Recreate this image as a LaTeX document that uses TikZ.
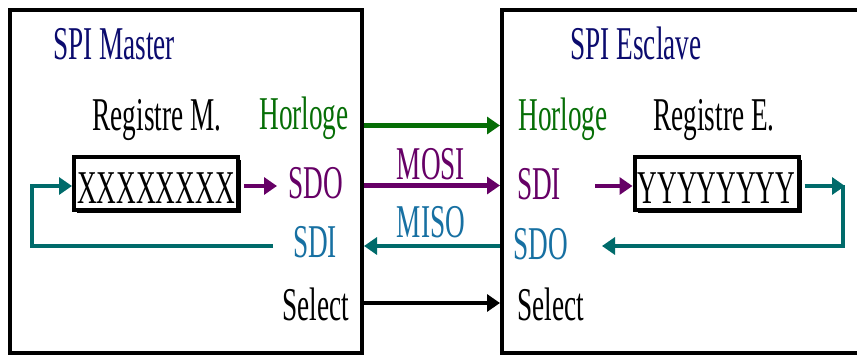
\documentclass[tikz,border=0pt]{standalone}
\usepackage{fontspec}
\setmainfont{Liberation Serif}[FakeStretch=0.58]
\usetikzlibrary{arrows.meta,shadows}
\definecolor{navyc}{HTML}{0B0B6E}
\definecolor{greenc}{HTML}{066E06}
\definecolor{purplec}{HTML}{660066}
\definecolor{tealc}{HTML}{006B6B}
\definecolor{bluec}{HTML}{1770A2}
\begin{document}
\begin{tikzpicture}[x=1pt,y=-1pt,
  lbl/.style={anchor=base, inner sep=0pt, font=\fontsize{47}{50}\selectfont},
  wire/.style={line width=4.5pt, -{Triangle[length=13pt,width=17pt]}},
  unitbox/.style={draw, line width=4pt, inner sep=0pt},
  regbox/.style={draw, line width=4pt, fill=white, inner sep=0pt,
    minimum width=164pt, minimum height=53pt, text height=39pt, text depth=0pt,
    font=\fontsize{47}{50}\selectfont,
    drop shadow={shadow xshift=3pt, shadow yshift=-3pt, fill=black, opacity=1}}]
\useasboundingbox (0,0) rectangle (857,356);
\clip (0,0) rectangle (857,356);
% units
\node[unitbox, minimum width=352pt, minimum height=343pt] (master) at (186,181.5) {};
\node[unitbox, minimum width=378pt, minimum height=343pt] (slave) at (691,181.5) {};
% titles and labels
\node[lbl, text=navyc] (tM) at (114,59) {SPI Master};
\node[lbl, text=navyc] (tS) at (636,59) {SPI Esclave};
\node[lbl] (rM) at (157,130) {Registre M.};
\node[lbl, text=greenc] (hM) at (304,129) {Horloge};
\node[lbl, text=greenc] (hS) at (563,130) {Horloge};
\node[lbl] (rS) at (714,130) {Registre E.};
\node[lbl, text=purplec] (sdoM) at (316,198) {SDO};
\node[lbl, text=purplec] (sdiS) at (539,199) {SDI};
\node[lbl, text=purplec] (mosi) at (431,179) {MOSI};
\node[lbl, text=bluec] (miso) at (431,237) {MISO};
\node[lbl, text=bluec] (sdiM) at (315,257) {SDI};
\node[lbl, text=bluec] (sdoS) at (541,259) {SDO};
\node[lbl] (selM) at (316,320) {Select};
\node[lbl] (selS) at (551,320) {Select};
% registers
\node[regbox] (regM) at (156,183.5) {XXXXXXXX};
\node[regbox] (regS) at (716.5,183.5) {YYYYYYYY};
% levels
\coordinate (yClk) at (0,125.5);
\coordinate (yMosi) at (0,185.5);
\coordinate (yMiso) at (0,246);
\coordinate (ySel) at (0,303);
% bus
\draw[wire, greenc] (master.east |- yClk) -- (slave.west |- yClk);
\draw[wire, purplec] (master.east |- yMosi) -- (slave.west |- yMosi);
\draw[wire, tealc] (slave.west |- yMiso) -- (master.east |- yMiso);
\draw[wire, black] (master.east |- ySel) -- (slave.west |- ySel);
% master internals
\coordinate (mOut) at (277,186);
\draw[wire, purplec, shorten <=4pt] (regM.east |- mOut) -- (mOut);
\coordinate (mLoopStart) at (273,246);
\coordinate (mLoopA) at (32,246);
\coordinate (mLoopB) at (32,186);
\draw[wire, tealc] (mLoopStart) -- (mLoopA) -- (mLoopB) -- (regM.west |- mLoopB);
% slave internals
\coordinate (sIn) at (595,186);
\draw[wire, purplec] (sIn) -- (regS.west |- sIn);
\coordinate (sTip) at (845,186);
\draw[wire, tealc, shorten <=4pt] (regS.east |- sTip) -- (sTip);
\coordinate (sDown) at (843,185);
\coordinate (sCorner) at (843,246);
\coordinate (sOut) at (602,246);
\draw[wire, tealc] (sDown) -- (sCorner) -- (sOut);
\end{tikzpicture}
\end{document}
